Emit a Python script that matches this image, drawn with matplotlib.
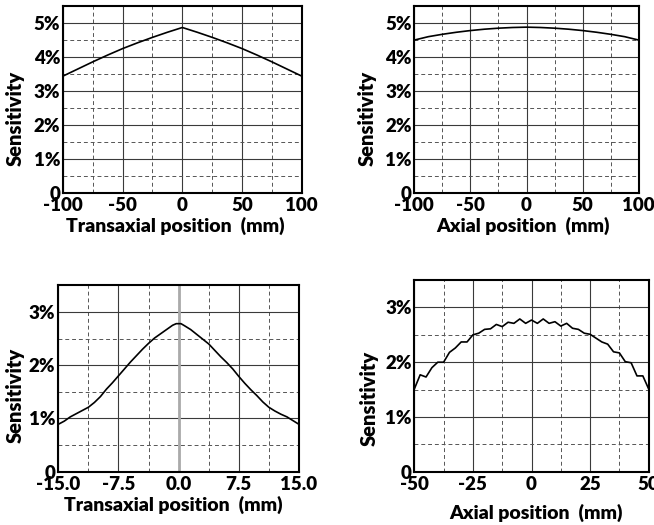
import numpy as np
import matplotlib
matplotlib.use("Agg")
import matplotlib.pyplot as plt
from matplotlib.ticker import MultipleLocator, FixedLocator, FuncFormatter

plt.rcParams['font.family'] = ['Lato', 'DejaVu Sans']
plt.rcParams['font.weight'] = 'bold'

# Transaxial profile, large phantom (mm, %)
trans_big_x = [-100, -87.5, -75, -62.5, -50, -37.5, -25, -12.5, 0,
               12.5, 25, 37.5, 50, 62.5, 75, 87.5, 100]
trans_big_y = [3.44, 3.65, 3.86, 4.06, 4.25, 4.42, 4.58, 4.73, 4.87,
               4.73, 4.58, 4.42, 4.25, 4.06, 3.86, 3.65, 3.44]

# Axial profile, large phantom
axial_big_x = [-100, -87.5, -75, -62.5, -50, -37.5, -25, -12.5, 0,
               12.5, 25, 37.5, 50, 62.5, 75, 87.5, 100]
axial_big_y = [4.50, 4.60, 4.67, 4.73, 4.78, 4.82, 4.85, 4.87, 4.88,
               4.87, 4.85, 4.82, 4.78, 4.73, 4.67, 4.60, 4.50]

# Transaxial profile, small phantom
trans_small_x = [-15, -14.25, -13.5, -12.75, -12, -11.25, -10.5, -9.75, -9, -8.25,
                 -7.5, -6.75, -6, -5.25, -4.5, -3.75, -3, -2.25, -1.5, -0.75,
                 -0.3, 0.3,
                 0.75, 1.5, 2.25, 3, 3.75, 4.5, 5.25, 6, 6.75, 7.5,
                 8.25, 9, 9.75, 10.5, 11.25, 12, 12.75, 13.5, 14.25, 15]
trans_small_y = [0.89, 0.95, 1.03, 1.09, 1.15, 1.21, 1.30, 1.41, 1.55, 1.67,
                 1.80, 1.93, 2.06, 2.18, 2.30, 2.41, 2.51, 2.59, 2.67, 2.75,
                 2.78, 2.78,
                 2.74, 2.67, 2.58, 2.49, 2.40, 2.28, 2.16, 2.05, 1.93, 1.79,
                 1.66, 1.54, 1.43, 1.31, 1.21, 1.14, 1.08, 1.03, 0.96, 0.89]

# Axial profile, small phantom
axial_small_x = [-50, -47.5, -45, -42.5, -40, -37.5, -35, -32.5, -30, -27.5,
                 -25, -22.5, -20, -17.5, -15, -12.5, -10, -7.5, -5, -2.5,
                 0, 2.5, 5, 7.5, 10, 12.5, 15, 17.5, 20, 22.5,
                 25, 27.5, 30, 32.5, 35, 37.5, 40, 42.5, 45, 47.5, 50]
axial_small_y = [1.51, 1.77, 1.73, 1.90, 2.00, 2.00, 2.18, 2.26, 2.37, 2.37,
                 2.50, 2.53, 2.60, 2.61, 2.69, 2.65, 2.73, 2.71, 2.79, 2.71,
                 2.77, 2.71, 2.79, 2.71, 2.74, 2.66, 2.71, 2.62, 2.60, 2.53,
                 2.51, 2.44, 2.37, 2.33, 2.19, 2.17, 2.01, 1.99, 1.75, 1.75, 1.51]

pct = FuncFormatter(lambda v, p: "0" if abs(v) < 1e-9 else f"{v:.0f}%")

fig = plt.figure(figsize=(6.54, 5.25), dpi=100)

panels = [
    dict(rect=[0.0963, 0.6324, 0.365, 0.356], x=trans_big_x, y=trans_big_y,
         xlim=(-100, 100), major=[-100, -50, 0, 50, 100], minor=[-75, -25, 25, 75],
         xfmt="{:.0f}", ylim=(0, 5.5), xlabel="Transaxial position  (mm)",
         ylab=(-0.16, 0.40), xlab=(0.472, -0.128), center=False),
    dict(rect=[0.6335, 0.6324, 0.3431, 0.356], x=axial_big_x, y=axial_big_y,
         xlim=(-100, 100), major=[-100, -50, 0, 50, 100], minor=[-75, -25, 25, 75],
         xfmt="{:.0f}", ylim=(0, 5.5), xlabel="Axial position  (mm)",
         ylab=(-0.166, 0.40), xlab=(0.483, -0.128), center=False),
    dict(rect=[0.0891, 0.1015, 0.368, 0.355], x=trans_small_x, y=trans_small_y,
         xlim=(-15, 15), major=[-15, -7.5, 0, 7.5, 15], minor=[-11.25, -3.75, 3.75, 11.25],
         xfmt="{:.1f}", ylim=(0, 3.5), xlabel="Transaxial position  (mm)",
         ylab=(-0.138, 0.41), xlab=(0.48, -0.128), center=True),
    dict(rect=[0.6335, 0.1015, 0.3584, 0.365], x=axial_small_x, y=axial_small_y,
         xlim=(-50, 50), major=[-50, -25, 0, 25, 50], minor=[-37.5, -12.5, 12.5, 37.5],
         xfmt="{:.0f}", ylim=(0, 3.5), xlabel="Axial position  (mm)",
         ylab=(-0.152, 0.385), xlab=(0.519, -0.168), center=False),
]

for p in panels:
    ax = fig.add_axes(p["rect"])
    ax.set_xlim(*p["xlim"])
    ax.set_ylim(*p["ylim"])
    ax.xaxis.set_major_locator(FixedLocator(p["major"]))
    ax.xaxis.set_minor_locator(FixedLocator(p["minor"]))
    fmt = p["xfmt"]
    ax.xaxis.set_major_formatter(FuncFormatter(lambda v, q, f=fmt: f.format(v)))
    ax.yaxis.set_major_locator(MultipleLocator(1))
    ax.yaxis.set_minor_locator(MultipleLocator(0.5))
    ax.yaxis.set_major_formatter(pct)
    ax.grid(which="major", color="#3a3a3a", lw=0.8, ls="-")
    ax.grid(which="minor", color="#555555", lw=0.7, ls=(0, (4, 3)))
    ax.set_axisbelow(True)
    if p["center"]:
        ax.axvline(0, color="#aaaaaa", lw=2.0, zorder=1.5)
    ax.plot(p["x"], p["y"], color="black", lw=1.2, zorder=3)
    ax.tick_params(which="both", length=0, labelsize=13.5)
    ax.tick_params(axis="x", pad=3)
    ax.tick_params(axis="y", pad=2)
    for lbl in ax.get_xticklabels() + ax.get_yticklabels():
        lbl.set_fontweight("heavy")
    for s in ax.spines.values():
        s.set_linewidth(1.5)
        s.set_color("black")
    ax.set_ylabel("Sensitivity", fontsize=14.5, fontweight="heavy")
    ax.set_xlabel(p["xlabel"], fontsize=14, fontweight="heavy", va="top")
    ax.yaxis.set_label_coords(*p["ylab"])
    ax.xaxis.set_label_coords(*p["xlab"])

fig.savefig("out.png", dpi=100)
